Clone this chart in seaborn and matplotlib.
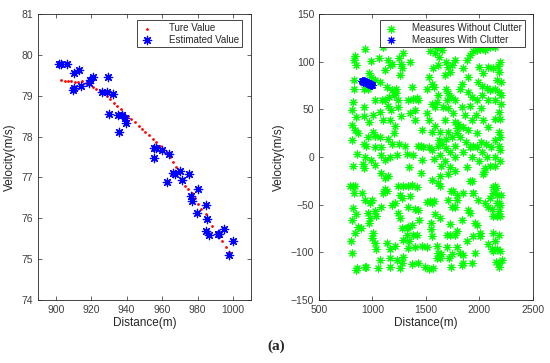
import matplotlib
matplotlib.use('Agg')
import matplotlib.pyplot as plt
import seaborn as sns

# left panel: true track (red dots) and estimates (blue asterisks)
true_dist = [902.8, 905.0, 907.1, 908.9, 911.0, 912.8, 914.9, 916.9, 918.8, 920.8,
             922.9, 924.9, 927.0, 928.8, 930.9, 932.7, 934.8, 936.6, 938.7, 940.7,
             942.6, 944.6, 946.7, 948.7, 950.6, 952.6, 954.6, 956.7, 958.6, 960.6,
             962.5, 964.5, 966.0, 967.8, 969.7, 971.2, 973.0, 974.7, 976.6, 978.6,
             980.5, 982.2, 984.6, 986.1, 988.3, 990.5, 992.2, 993.9, 996.1, 997.6]
true_vel = [79.39, 79.37, 79.36, 79.35, 79.34, 79.34, 79.35, 79.31, 79.28, 79.22,
            79.17, 79.11, 79.04, 78.99, 78.91, 78.83, 78.75, 78.67, 78.59, 78.51,
            78.43, 78.35, 78.27, 78.19, 78.12, 78.03, 77.94, 77.86, 77.78, 77.70,
            77.60, 77.51, 77.38, 77.26, 77.14, 76.95, 76.79, 76.71, 76.62, 76.49,
            76.36, 76.23, 76.10, 75.96, 75.81, 75.67, 75.55, 75.43, 75.29, 75.18]

est_dist = [901.9, 902.8, 906.1, 910.2, 913.0, 909.6, 910.2, 914.3, 918.6, 919.2,
            921.0, 929.4, 926.0, 928.8, 932.2, 930.3, 935.3, 937.2, 939.0, 939.6,
            935.9, 955.5, 956.7, 955.5, 960.1, 963.8, 966.0, 967.5, 970.0, 974.9,
            962.7, 971.0, 980.5, 976.2, 977.1, 984.6, 979.9, 985.5, 984.8, 986.4,
            991.4, 992.3, 994.8, 999.8, 997.8]
est_vel = [79.79, 79.77, 79.78, 79.55, 79.62, 79.14, 79.20, 79.25, 79.31, 79.39,
           79.47, 79.45, 79.09, 79.09, 79.04, 78.55, 78.53, 78.53, 78.46, 78.34,
           78.12, 77.71, 77.71, 77.48, 77.67, 77.57, 77.10, 77.08, 77.16, 77.08,
           76.88, 76.93, 76.71, 76.54, 76.43, 76.32, 76.12, 75.97, 75.69, 75.59,
           75.61, 75.61, 75.74, 75.45, 75.10]

clutter_x = [
    834, 828, 850, 831, 831, 822, 809, 844, 809, 834, 809, 866, 859, 822,
    928, 990, 969, 984, 1022, 959, 916, 1022, 922, 922, 1006, 966, 1009, 959, 1022, 922, 944, 1022, 928, 990, 913, 1022, 922,
    1062, 1100, 1147, 1162, 1184, 1116, 1069, 1131, 1091, 1116, 1153, 1147, 1169, 1069, 1100, 1162, 1069, 1147, 1178, 1084, 1084, 1116, 1162,
    1197, 1288, 1247, 1266, 1272, 1256, 1216, 1234, 1197, 1184, 1216, 1241, 1266, 1209, 1203, 1247, 1225, 1303, 1319,
    1350, 1372, 1334, 1381, 1412, 1422, 1397, 1347, 1397, 1459, 1428, 1453, 1475, 1381, 1344, 1459,
    1537, 1584, 1622, 1600, 1647, 1569, 1616, 1528, 1553, 1578, 1506, 1616, 1553, 1506, 1584, 1606, 1528, 1584, 1553, 1631, 1622, 1528, 1553, 1616, 1575, 1634, 1640,
    1684, 1709, 1725, 1681, 1741, 1772, 1684, 1709, 1734, 1697, 1772, 1662, 1709, 1756, 1678, 1772, 1787, 1709, 1684, 1741, 1787, 1647, 1772, 1691, 1725, 1678, 1772, 1725,
    1850, 1881, 1912, 1944, 1841, 1897, 1819, 1891, 1934, 1834, 1912, 1866, 1803, 1850, 1891, 1928, 1816, 1878, 1909, 1941, 1850, 1928, 1881,
    1975, 2006, 2053, 2100, 1997, 2037, 2084, 1991, 2028, 2069, 2100, 2022, 1975, 2084, 2016, 1966, 2034, 2081, 1978, 2016, 2059, 2109, 1978, 2025, 2072, 2000, 2053, 2100,
    2147, 2194, 2172, 2131, 2184, 2162, 2203, 2147, 2184, 2203, 2147, 2203, 2184, 2147, 2194, 2178, 2194, 2147, 2184, 2194, 2147, 2194, 2147,
    787, 819, 841, 828, 903, 934, 975, 997, 819, 850, 809, 866, 891, 834, 803, 809, 856, 847, 928, 944,
    959, 975, 966, 1022, 1037, 1006, 1000, 1022, 1037, 1069, 1053,
    1078, 1116, 1147, 1116, 1100, 1131, 1075, 1178, 1209, 1131, 1162, 1162, 1162, 1209, 1225, 1272, 1256, 1288,
    1241, 1288, 1334, 1366, 1412, 1256, 1272, 1350, 1241, 1256, 1334, 1272, 1319, 1334, 1366, 1319, 1381, 1412, 1434, 1397, 1422, 1288, 1341, 1334, 1397, 1459, 1506, 1366, 1422, 1491, 1528, 1569, 1450,
    1506, 1537, 1575, 1559, 1547, 1547, 1553, 1600, 1584, 1631, 1553, 1616, 1631, 1616, 1600, 1631, 1641, 1631, 1709, 1772,
    1697, 1728, 1697, 1712, 1741, 1734, 1787, 1772, 1787, 1728, 1741, 1772, 1787, 1709, 1756, 1734, 1787,
    1834, 1850, 1819, 1850, 1834, 1881, 1912, 1897, 1850, 1912, 1928, 1941, 1928, 1959, 1944, 1959, 1975, 1944, 1991,
    2006, 2006, 2037, 2047, 2053, 2100, 2084, 2116, 2131, 2147, 2153, 2131, 2162, 2203, 2162, 2184, 2194, 2178, 2194, 2162, 2131, 2131, 2178, 2147, 2116, 2131, 2162, 2194, 2153, 2184, 2209, 2178, 2084,
]
clutter_y = [
    106, 102, 97, 81, 71, 58, 49, 42, 34, 28, 18, 25, 3, -9,
    113, 101, 88, 84, 81, 71, 71, 60, 53, 43, 44, 37, 26, 21, 22, 14, 12, 10, 0, -3, -7, -8, -12,
    104, 116, 102, 97, 98, 91, 79, 74, 60, 60, 63, 54, 49, 47, 39, 39, 21, 19, 14, 10, 2, -3, 0,
    121, 109, 104, 98, 93, 86, 71, 60, 65, 70, 67, 53, 43, 33, 25, 14, 2, 12, 3,
    100, 74, 60, 61, 62, 60, 49, 46, 39, 28, 12, 12, 10, 2, -10, -3,
    111, 109, 105, 114, 112, 93, 97, 84, 77, 73, 71, 65, 56, 46, 53, 58, 39, 33, 26, 26, 18, 11, 7, 12, -2, 2, -9,
    100, 95, 89, 86, 97, 102, 71, 67, 63, 60, 60, 53, 51, 46, 39, 37, 30, 26, 19, 21, 25, 14, 12, 9, 5, -4, 0, -11,
    93, 102, 107, 111, 77, 84, 71, 68, 63, 53, 54, 44, 35, 32, 28, 39, 21, 16, 10, 12, 5, 0, -11,
    112, 113, 112, 116, 95, 88, 95, 79, 75, 72, 70, 65, 60, 60, 51, 44, 39, 32, 25, 16, 14, 10, 10, 5, 0, -4, -12, -9,
    116, 100, 96, 93, 89, 81, 79, 71, 68, 65, 60, 56, 47, 40, 40, 26, 21, 18, 12, 7, 0, -4, -9,
    -30, -30, -30, -38, -38, -45, -48, -45, -54, -60, -66, -73, -75, -80, -88, -101, -117, -119, -115, -115,
    -59, -64, -69, -57, -62, -80, -85, -90, -97, -108, -117,
    -17, -22, -20, -34, -38, -36, -53, -50, -48, -90, -97, -106, -115, -93, -108, -111, -117, -105,
    -30, -30, -30, -29, -31, -40, -43, -41, -59, -64, -52, -75, -75, -73, -71, -82, -82, -82, -66, -55, -56, -87, -88, -96, -94, -93, -94, -112, -111, -115, -118, -117, -17,
    -47, -46, -46, -48, -69, -76, -83, -93, -60, -64, -24, -27, -30, -101, -106, -106, -102, -20, -18, -15,
    -82, -82, -94, -106, -102, -115, -94, -82, -78, -70, -52, -53, -45, -45, -36, -36, -40,
    -113, -111, -101, -103, -66, -88, -59, -56, -38, -25, -25, -38, -111, -101, -83, -69, -71, -38, -45,
    -83, -80, -18, -16, -48, -43, -52, -55, -32, -30, -33, -38, -40, -40, -48, -48, -50, -57, -62, -62, -62, -80, -82, -88, -97, -99, -97, -99, -110, -111, -108, -115, -91,
]

sns.set_style('ticks')
plt.rcParams['font.family'] = ['Liberation Sans', 'DejaVu Sans']

fig = plt.figure(figsize=(5.5, 3.63), dpi=100)
ax1 = fig.add_axes([0.069, 0.174, 0.387, 0.787])
ax2 = fig.add_axes([0.580, 0.174, 0.389, 0.787])

star = (8, 2, 0)  # matlab-like asterisk

sns.scatterplot(x=true_dist, y=true_vel, ax=ax1, color='red', marker='o', s=4,
                linewidth=0, label='Ture Value')
sns.scatterplot(x=est_dist, y=est_vel, ax=ax1, color='blue', marker=star, s=36,
                linewidth=0.9, label='Estimated Value')

sns.scatterplot(x=clutter_x, y=clutter_y, ax=ax2, color='#00ff00', marker=star, s=26,
                linewidth=0.8, label='Measures Without Clutter')
sns.scatterplot(x=est_dist, y=est_vel, ax=ax2, color='blue', marker=star, s=24,
                linewidth=0.8, label='Measures With Clutter')

ax1.set_xlim(890, 1010)
ax1.set_ylim(74, 81)
ax1.set_xticks(range(900, 1001, 20))
ax1.set_yticks(range(74, 82))
ax2.set_xlim(500, 2500)
ax2.set_ylim(-150, 150)
ax2.set_xticks(range(500, 2501, 500))
ax2.set_yticks(range(-150, 151, 50))

for ax, anchor in [(ax1, (0.958, 0.979)), (ax2, (0.963, 0.979))]:
    ax.set_xlabel('Distance(m)', fontsize=8.5, color='#262626', labelpad=2)
    ax.set_ylabel('Velocity(m/s)', fontsize=8.5, color='#262626', labelpad=4)
    ax.tick_params(direction='in', top=True, right=True, length=3, width=0.5,
                   labelsize=7.5, labelcolor='#404040', color='#262626')
    for sp in ax.spines.values():
        sp.set_visible(True)
        sp.set_linewidth(0.6)
        sp.set_color('#262626')
    leg = ax.legend(loc='upper right', bbox_to_anchor=anchor, borderaxespad=0,
                    fontsize=7, fancybox=False, framealpha=1, edgecolor='#262626',
                    handlelength=1.6, handletextpad=1.4, labelspacing=0.15,
                    borderpad=0.3)
    leg.get_frame().set_linewidth(0.6)

fig.text(0.503, 0.045, '(a)', ha='center', va='center', fontsize=11,
         fontweight='bold', family=['Liberation Serif', 'DejaVu Serif'])

fig.savefig('out.png', dpi=100)
